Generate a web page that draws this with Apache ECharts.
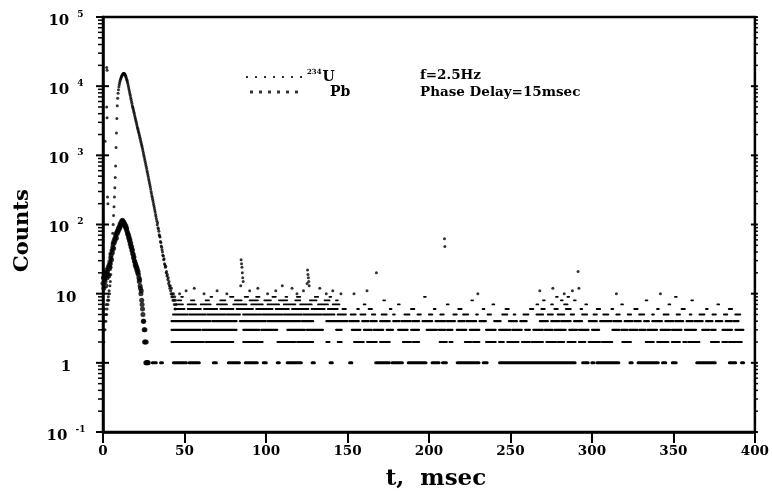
<!DOCTYPE html>
<html><head><meta charset="utf-8">
<script src="https://cdn.jsdelivr.net/npm/echarts@6/dist/echarts.min.js"></script>
<style>html,body{margin:0;padding:0;background:#fff}#c{width:772px;height:496px}</style>
</head><body><div id="c"></div>
<script>
// ---------------- data ----------------
// x ticks (ms) and y decades
const xTicks = [0, 50, 100, 150, 200, 250, 300, 350, 400];
const yDecades = [0.1, 1, 10, 100, 1000, 10000, 100000];
const minorMultipliers = [2, 3, 4, 5, 6, 7, 8, 9];

// peak region, 0.25 ms bins starting at t = 0
const peakStep = 0.25;
const uPeak = [
  3,5,2,4,6,3,5,4,7,5,6,8,7,9,8,11,10,13,15,19,
  24,32,42,55,75,100,135,180,250,340,480,700,1300,2100,3400,5200,6700,7900,8900,9800,
  10600,11300,12000,12600,13100,13600,14000,14400,14700,15000,15200,15300,15200,15000,14700,14300,13800,13200,12600,12100,
  11500,10800,10100,9500,8900,8300,7800,7300,6800,6400,6000,5600,5200,4950,4700,4450,4200,3950,3700,3500,
  3300,3120,2930,2760,2600,2470,2340,2220,2100,1980,1870,1760,1660,1570,1480,1400,1320,1240,1160,1090,
  1020,960,900,840,790,740,690,645,600,565,530,495,460,430,400,375,350,325,300,280,
  260,245,230,215,200,186,174,162,151,140,130,121,112,99,106,90,86,80,71,68,
  66,57,55,49,47,43,40,36,35,31,32,27,26,24,25,20,21,18,19,16,
  17,14,15,13,12,13,11,10,12,9,10,9,8,10,8,7,9,6,8,7
];
const pbPeak = [
  14,17,12,19,16,15,20,13,18,22,17,21,19,24,18,26,23,29,27,33,
  36,31,42,39,47,52,45,58,55,63,60,68,72,64,77,74,82,79,88,85,
  93,89,101,96,106,99,112,104,115,108,110,103,106,97,100,92,95,86,88,80,
  76,71,72,64,66,58,60,52,54,47,48,42,43,38,37,33,34,30,29,26,
  27,24,25,22,23,20,21,19,17,15,16,13,12,10,11,8,7,6,5,4,4,3,2,3,2,1,2,1,1,0,1,1
];
// faint dotted column of U counts near t = 1-4 ms: [t, counts]
const uEarly = [[1.25,1600],[2.25,18600],[2.5,17000],[2.25,5000],[2.5,3500],[2.75,250],[3.0,200],[4.25,38],[4.5,25]];
// isolated spikes / stray U counts: [t, counts]
const uSpikes = [[84.5,13],[84.75,31],[85,27],[85.25,24],[85.5,20],[85.75,17],[86,15],
  [125.25,14],[125.5,22],[125.75,19],[126,17],[126.25,15],[126.5,13],
  [167.75,20],[209.5,62],[209.75,48],[291.5,21],[292,12]];
const uSparse = [[47,10],[51,11],[56,12],[62,10],[70,11],[76,10],[90,11],[95,12],[101,10],[106,11],
  [110,13],[116,12],[119,10],[123,11],[133,12],[137,10],[141,11],[146,10],[154,10],[162,11],
  [230,10],[268,11],[276,12],[283,10],[288,11],[315,10],[342,10]];

// background: runs of consecutive bins at a given count level, [tStart, tEnd] in ms
const pbLevel1 = [[30,33],[35,36.8],[42.9,51.5],[52.5,59.4],[67.4,69.9],[76.6,84],[87,95],[98,100.5],[106.6,108.5],
  [112.7,122],[128,130],[139,141],[151,153],[167,176],[177,184],[187,198.5],[201.6,206.5],[208,211],[217,231],
  [233,236],[243,290],[294,298],[299.6,301.5],[302.7,316.8],[323,325],[328,341],[343,345.6],[349,352],[364,376],
  [384,388.5],[391.5,393.4]];
const uLevel2 = [[42,62],[63,80],[86,98],[107,118],[119,129],[137,139],[144,146.5],[154,160],[162,168],[170,176],
  [184,189],[190,194],[206.5,211],[212.6,214.5],[222,226],[227,231],[235,241],[243,246],[248,255],[257,262],
  [263,270],[272,278],[279,283],[285,290],[292,296],[298,305],[306,312.5],[318.6,324],[333,338],[340,347],
  [349,354],[356,358],[359,366],[373,378],[380,383],[384,392]];
const uLevel3 = [[42,60],[61,82],[86,96],[97,107],[113,124],[125,135],[143,146.5],[152.6,158],[160,165],[166,172],
  [174,178],[181,187],[189,194],[198.5,205],[206,210],[211,214.5],[217,223],[225,231],[235,241],[243,250],
  [251,257],[259,262],[264,270],[271,276],[277,284],[286,291],[292,298],[300,304.5],[312.5,317],[318,322],
  [323,328],[329,333],[334,340],[342,348],[349,355],[357,364],[367.6,372],[373,376],[380,386],[388,393]];
const uLevel4 = [[42,66],[67,82],[84,100],[101,121],[122,129],[137,150],[151,157],[159,163],[164,168],[170,176],
  [178,182],[183,189],[190,194],[196,202],[204,210],[211,216],[218,222],[223,229],[231,235],[240,244],
  [249,254],[256,260],[268,273],[275,280],[281,287],[289,294],[298,303],[305,312],[313,318],[320,325],
  [326,330],[332,335],[337,343],[345,350],[351,356],[358,362],[363,368],[370,374],[376,380],[382,386],[387,390]];
const uLevel5 = [[43,52],[53,63],[64,75],[76,84],[86,97],[98,110],[111,122],[123,134],[135,142],[144,149],
  [152,155],[158,161],[165,167],[171,174],[178,179],[185,188],[193,195],[200,202],[207,209],[215,217],
  [221,224],[229,230],[236,238],[245,248],[252,253],[258,261],[266,270],[273,276],[279,283],[287,289],
  [294,297],[301,303],[307,310],[315,317],[322,324],[329,332],[337,338],[344,347],[352,354],[360,361],
  [366,369],[374,376],[381,383],[388,391]];
const uLevel6 = [[44,50],[52,60],[62,70],[72,80],[82,92],[94,104],[106,114],[116,126],[128,136],[138,144],
  [147,149],[156,157],[163,165],[176,177],[189,191],[203,204],[218,220],[233,234],[247,249],[262,264],
  [269,271],[277,279],[284,287],[293,294],[303,305],[312,313],[326,328],[340,341],[355,357],[370,371],[384,386]];
const uLevel7 = [[45,49],[52,57],[60,66],[70,76],[80,88],[91,98],[101,108],[111,118],[121,128],[132,138],
  [141,145],[160,161],[181,182],[211,212],[239,240],[266,267],[275,276],[283,285],[296,297],[318,319],
  [347,348],[377,378]];
const uLevel8 = [[46,48],[54,56],[63,65],[72,75],[81,85],[90,95],[99,103],[108,113],[118,121],[127,131],
  [136,139],[143,144],[172,173],[226,227],[270,271],[281,282],[289,290],[333,334],[361,362]];
const uLevel9 = [[48,49],[66,67],[78,80],[87,89],[94,96],[104,106],[112,113],[119,121],[130,132],[139,140],
  [197,198],[278,279],[285,286],[351,352]];

// ---------------- build options ----------------
const FONT = 'DejaVu Serif';
function peakPairs(arr) {
  const out = [];
  arr.forEach((v, i) => { if (v > 0) out.push([i * peakStep, v]); });
  return out;
}
const uData = peakPairs(uPeak).concat(uEarly, uSpikes, uSparse);
const pbData = peakPairs(pbPeak);

function runsData(levels) {
  const d = [];
  levels.forEach(([lvl, runs]) => runs.forEach(r => d.push([r[0], r[1], lvl])));
  return d;
}
const uRuns = runsData([[2,uLevel2],[3,uLevel3],[4,uLevel4],[5,uLevel5],[6,uLevel6],[7,uLevel7],[8,uLevel8],[9,uLevel9]]);
const pbRuns = runsData([[1,pbLevel1]]);

function runRender(hFn) {
  return function (params, api) {
    const lvl = api.value(2);
    const p0 = api.coord([api.value(0), lvl]);
    const p1 = api.coord([api.value(1), lvl]);
    const h = hFn(lvl);
    const w = Math.max(p1[0] - p0[0] + 2, 3);
    return { type: 'rect', shape: { x: p0[0] - 1, y: p0[1] - h / 2, width: w, height: h, r: h / 2 },
             style: { fill: '#000' } };
  };
}

// axis tick marks (log minor ticks at 2..9 x decade)
const tickData = [];
yDecades.forEach(d => tickData.push([0, d, 1]));
yDecades.slice(0, -1).forEach(d => minorMultipliers.forEach(m => tickData.push([0, d * m, 0])));

const uIcon = 'path://M0,0h2v2h-2z M9,0h2v2h-2z M18,0h2v2h-2z M27,0h2v2h-2z M36,0h2v2h-2z M45,0h2v2h-2z M54,0h2v2h-2z';
const pbIcon = 'path://M0,0h3v3h-3z M9,0h3v3h-3z M18,0h3v3h-3z M27,0h3v3h-3z M36,0h3v3h-3z M45,0h3v3h-3z';

const option = {
  animation: false,
  backgroundColor: '#fff',
  grid: { left: 103, right: 17, top: 17, bottom: 45, show: true, borderColor: '#000', borderWidth: 2.5, backgroundColor: 'transparent' },
  legend: {
    orient: 'vertical', left: 241, top: 64, itemWidth: 56, itemHeight: 3, itemGap: 1,
    selectedMode: false,
    data: [{ name: 'U', icon: uIcon }, { name: 'Pb', icon: pbIcon }],
    formatter: n => n === 'U' ? '{sup|234}{n|U}' : '{sp|}{n|Pb}',
    textStyle: {
      color: '#000', fontFamily: FONT, fontWeight: 'bold', fontSize: 14,
      rich: {
        n: { fontFamily: FONT, fontWeight: 'bold', fontSize: 14, lineHeight: 16, color: '#000' },
        sup: { fontFamily: FONT, fontWeight: 'bold', fontSize: 7, padding: [0, 1, 9, 0], color: '#000' },
        sp: { width: 23 }
      }
    }
  },
  xAxis: {
    type: 'value', min: xTicks[0], max: xTicks[xTicks.length - 1], interval: 50,
    name: 't,  msec', nameLocation: 'middle', nameGap: 36,
    nameTextStyle: { fontFamily: FONT, fontWeight: 'bold', fontSize: 23, color: '#000', padding: [0, 0, 0, 14] },
    axisLine: { lineStyle: { color: '#000', width: 2.5 } },
    axisTick: { show: true, length: 11, lineStyle: { color: '#000', width: 2 } },
    axisLabel: { color: '#000', fontFamily: FONT, fontWeight: 'bold', fontSize: 13.5, margin: 12 },
    splitLine: { show: false }
  },
  yAxis: {
    type: 'log', logBase: 10, min: yDecades[0], max: yDecades[yDecades.length - 1], interval: 1,
    name: 'Counts', nameLocation: 'middle', nameGap: 70, nameRotate: 90,
    nameTextStyle: { fontFamily: FONT, fontWeight: 'bold', fontSize: 21, color: '#000', padding: [0, 12, 0, 0] },
    axisLine: { show: true, lineStyle: { color: '#000', width: 2.5 } },
    axisTick: { show: false },
    axisLabel: {
      margin: 37, align: 'center', color: '#000',
      formatter: v => {
        const e = Math.round(Math.log10(v));
        if (e === 0) return '{b|1}';
        if (e === 1) return '{b|10}';
        return '{b|10}{s|' + (e < 0 ? '-' : '') + Math.abs(e) + '}';
      },
      rich: {
        b: { fontFamily: FONT, fontWeight: 'bold', fontSize: 15, color: '#000', padding: [8, 0, 0, 0] },
        s: { fontFamily: FONT, fontWeight: 'bold', fontSize: 9, color: '#000', padding: [0, 0, 5, 8] }
      }
    },
    splitLine: { show: false }
  },
  graphic: [
    { type: 'text', left: 420, top: 68, style: { text: 'f=2.5Hz', fontFamily: FONT, fontWeight: 'bold', fontSize: 13.5, fill: '#000' } },
    { type: 'text', left: 420, top: 85, style: { text: 'Phase Delay=15msec', fontFamily: FONT, fontWeight: 'bold', fontSize: 13.5, fill: '#000' } }
  ],
  series: [
    { name: 'U', type: 'scatter', data: uData, symbol: 'circle', symbolSize: 3, itemStyle: { color: '#000' }, z: 4, silent: true },
    { name: 'Pb', type: 'scatter', data: pbData, symbol: 'circle', symbolSize: 5, itemStyle: { color: '#000' }, z: 4, silent: true },
    { name: 'U', type: 'custom', data: uRuns, encode: { x: [0, 1], y: 2 }, renderItem: runRender(l => l <= 4 ? 2.2 : 1.8), itemStyle: { color: '#000' }, z: 3, silent: true },
    { name: 'Pb', type: 'custom', data: pbRuns, encode: { x: [0, 1], y: 2 }, renderItem: runRender(() => 3), itemStyle: { color: '#000' }, z: 3, silent: true },
    { name: 'ticks', type: 'custom', data: tickData, encode: { x: 0, y: 1 }, clip: false, silent: true, z: 5,
      renderItem: function (params, api) {
        const v = api.value(1), major = api.value(2) === 1;
        const pl = api.coord([xTicks[0], v]);
        const pr = api.coord([xTicks[xTicks.length - 1], v]);
        const style = { stroke: '#000', lineWidth: major ? 2 : 1.5 };
        return { type: 'group', children: [
          { type: 'line', shape: { x1: pl[0] - (major ? 7 : 5), y1: pl[1], x2: pl[0] + (major ? 6 : 0), y2: pl[1] }, style },
          { type: 'line', shape: { x1: pr[0] - (major ? 4 : 0), y1: pr[1], x2: pr[0] + 3, y2: pr[1] }, style }
        ] };
      }
    }
  ]
};
const chart = echarts.init(document.getElementById('c'));
chart.setOption(option);
</script></body></html>
